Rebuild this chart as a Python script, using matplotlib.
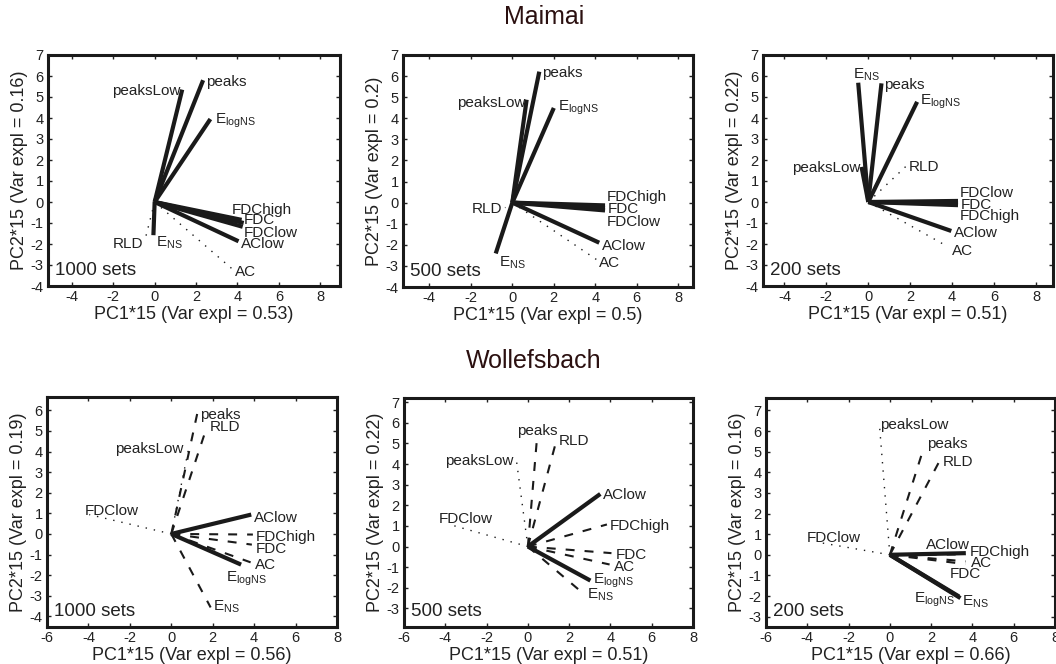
import matplotlib
matplotlib.use('Agg')
import matplotlib.pyplot as plt
from matplotlib.transforms import offset_copy

plt.rcParams['font.family'] = ['Liberation Sans', 'DejaVu Sans']
plt.rcParams['axes.unicode_minus'] = False

# variable names (same order in every panel)
names = ['peaks', 'peaksLow', 'ElogNS', 'ENS', 'FDC', 'FDChigh', 'FDClow', 'AC', 'AClow', 'RLD']
label_text = {'ElogNS': r'E$_\mathregular{logNS}$', 'ENS': r'E$_\mathregular{NS}$'}

# loadings (PC1*15, PC2*15)
mai1000_pc1 = [2.34, 1.33, 2.69, -0.06, 4.30, 4.20, 4.25, 3.76, 4.05, -0.43]
mai1000_pc2 = [5.80, 5.35, 3.95, -1.58, -1.00, -0.85, -1.18, -3.20, -1.87, -1.66]
mai500_pc1 = [1.30, 0.69, 2.00, -0.80, 4.47, 4.47, 4.47, 4.06, 4.19, -0.35]
mai500_pc2 = [6.21, 4.88, 4.49, -2.41, -0.25, -0.13, -0.37, -2.70, -1.90, -0.24]
mai200_pc1 = [0.63, -0.32, 2.33, -0.48, 4.28, 4.28, 4.28, 3.80, 3.96, 1.82]
mai200_pc2 = [5.65, 1.67, 4.77, 5.68, -0.05, -0.15, 0.05, -2.13, -1.38, 1.72]

wol1000_pc1 = [1.25, 0.85, 3.37, 1.90, 3.89, 3.94, -3.96, 3.83, 3.86, 1.66]
wol1000_pc2 = [5.83, 4.21, -1.49, -3.57, -0.52, -0.03, 0.94, -1.38, 0.94, 5.02]
wol500_pc1 = [0.44, -0.57, 3.03, 2.75, 4.05, 3.83, -3.80, 3.96, 3.51, 1.34]
wol500_pc2 = [5.22, 4.30, -1.65, -2.33, -0.32, 1.07, 1.07, -0.87, 2.55, 4.98]
wol200_pc1 = [1.59, -0.49, 3.35, 3.42, 3.65, 3.68, -3.44, 3.68, 3.68, 2.43]
wol200_pc2 = [5.02, 6.11, -2.02, -2.10, -0.45, 0.02, 0.60, -0.32, 0.08, 4.59]

var_pc1 = [0.53, 0.5, 0.51, 0.56, 0.51, 0.66]
var_pc2 = [0.16, 0.2, 0.22, 0.19, 0.22, 0.16]
set_sizes = [1000, 500, 200, 1000, 500, 200]

# line style per variable (s = solid, d = dashed, o = dotted)
sty_mai = ['s', 's', 's', 's', 's', 's', 's', 'o', 's', 'o']
sty_wol = ['d', 'o', 's', 'd', 'd', 'd', 'o', 'd', 's', 'd']
sty_wol200 = ['d', 'o', 's', 's', 'd', 'd', 'o', 'd', 's', 'd']

line_kw = {
    's': dict(lw=3.0, ls='-', zorder=3),
    'd': dict(lw=1.5, ls=(0, (4.3, 4.8)), zorder=2),
    'o': dict(lw=1.0, ls=(0, (1, 5)), zorder=1),
}

# label placement: (ha, dx pt, dy pt) relative to the arrow tip
lab_mai1000 = {'peaksLow': ('right', -1, 0), 'ElogNS': ('left', 3, 1), 'ENS': ('left', 2, -4),
               'FDC': ('left', 0, 3), 'FDChigh': ('left', -7, 8), 'FDClow': ('left', 1, -3),
               'AC': ('left', 2, -1), 'AClow': ('left', 2, -1), 'RLD': ('right', -2, -4)}
lab_mai500 = {'peaksLow': ('right', -1, -1), 'ElogNS': ('left', 3, 2), 'ENS': ('left', 2, -5),
              'FDChigh': ('left', 1, 7), 'FDClow': ('left', 1, -7), 'AC': ('left', 2, -1),
              'AClow': ('left', 2, -1), 'RLD': ('right', -2, 0)}
lab_mai200 = {'peaksLow': ('right', -1, 0), 'ElogNS': ('left', 2, 2), 'ENS': ('left', -4, 7),
              'FDChigh': ('left', 1, -7), 'FDClow': ('left', 1, 7), 'AC': ('left', 3, -2)}
lab_wol1000 = {'RLD': ('left', 3, 4), 'peaksLow': ('right', -4, 0), 'FDClow': ('left', -3, 4),
               'FDC': ('left', 3, -2), 'AC': ('left', 3, -1), 'ElogNS': ('left', -11, -8),
               'ENS': ('left', 2, 2), 'AClow': ('left', 2, -1), 'FDChigh': ('left', 2, -1)}
lab_wol500 = {'peaks': ('center', 0, 7), 'RLD': ('left', 2, 3), 'peaksLow': ('right', -2, -1),
              'FDClow': ('left', -8, 5), 'FDC': ('left', 3, 0), 'AC': ('left', 3, -1),
              'ElogNS': ('left', 2, 2), 'ENS': ('left', 2, 1)}
lab_wol200 = {'peaksLow': ('left', 0, 4), 'peaks': ('left', 3, 6), 'FDClow': ('left', -9, 4),
              'AClow': ('right', 3, 7), 'FDChigh': ('left', 3, 3), 'AC': ('left', 4, 0),
              'FDC': ('center', 0, -6), 'ElogNS': ('right', -3, 0), 'ENS': ('left', 1, -1)}

panels = [
    (mai1000_pc1, mai1000_pc2, sty_mai, lab_mai1000),
    (mai500_pc1, mai500_pc2, sty_mai, lab_mai500),
    (mai200_pc1, mai200_pc2, sty_mai, lab_mai200),
    (wol1000_pc1, wol1000_pc2, sty_wol, lab_wol1000),
    (wol500_pc1, wol500_pc2, sty_wol, lab_wol500),
    (wol200_pc1, wol200_pc2, sty_wol200, lab_wol200),
]

W, H = 1056, 664
# axes boxes in pixels: left, right, top, bottom
boxes = [(48, 340, 55, 286), (403, 693, 55, 287), (763, 1053, 55, 286),
         (47, 337, 397, 627), (404, 693, 398, 627), (766, 1055, 398, 627)]
xlims = [(-5.15, 8.95), (-5.27, 8.71), (-5.02, 8.81), (-6, 8), (-6, 8), (-6, 8)]
ylims = [(-4, 7), (-4, 7), (-4, 7), (-4.52, 6.65), (-3.9, 7.2), (-3.5, 7.6)]

fig = plt.figure(figsize=(W / 100, H / 100), dpi=100)
ink = '#1a1a1a'

for i, (pc1, pc2, sty, labs) in enumerate(panels):
    l, r, t, b = boxes[i]
    ax = fig.add_axes([l / W, 1 - b / H, (r - l) / W, (b - t) / H])
    for n, x, y, s in zip(names, pc1, pc2, sty):
        ax.plot([0, x], [0, y], color=ink, solid_capstyle='butt', dash_capstyle='butt', **line_kw[s])
        ha, dx, dy = labs.get(n, ('left', 2, 0))
        tr = offset_copy(ax.transData, fig=fig, x=dx, y=dy - 4, units='points')
        ax.text(x, y, label_text.get(n, n), transform=tr, ha=ha, va='baseline',
                fontsize=11, color='#222222', zorder=5)
    ax.set_xlim(xlims[i])
    ax.set_ylim(ylims[i])
    if i < 3:
        ax.set_xticks(range(-4, 9, 2))
        ax.set_yticks(range(-4, 8))
    else:
        ax.set_xticks(range(-6, 9, 2))
        ax.set_yticks(range(int(ylims[i][0]) if ylims[i][0] > -4 else -4, 8 if ylims[i][1] > 7 else 7))
    ax.tick_params(direction='in', top=True, right=True, length=3, width=1,
                   labelsize=10.5, pad=3, colors='#222222')
    for sp in ax.spines.values():
        sp.set_linewidth(2.2)
        sp.set_color(ink)
    ax.set_xlabel('PC1*15 (Var expl = %s)' % var_pc1[i], fontsize=13, labelpad=1, color='#222222')
    ax.set_ylabel('PC2*15 (Var expl = %s)' % var_pc2[i], fontsize=13, labelpad=2, color='#222222')
    ax.text(0.024, 0.047, '%d sets' % set_sizes[i], transform=ax.transAxes,
            fontsize=13.5, va='baseline', ha='left', color='#222222')

fig.text(544 / W, 1 - 17 / H, 'Maimai', ha='center', va='center', fontsize=18, color='#2b1010')
fig.text(534 / W, 1 - 361 / H, 'Wollefsbach', ha='center', va='center', fontsize=18, color='#2b1010')

fig.savefig('out.png', dpi=100)
